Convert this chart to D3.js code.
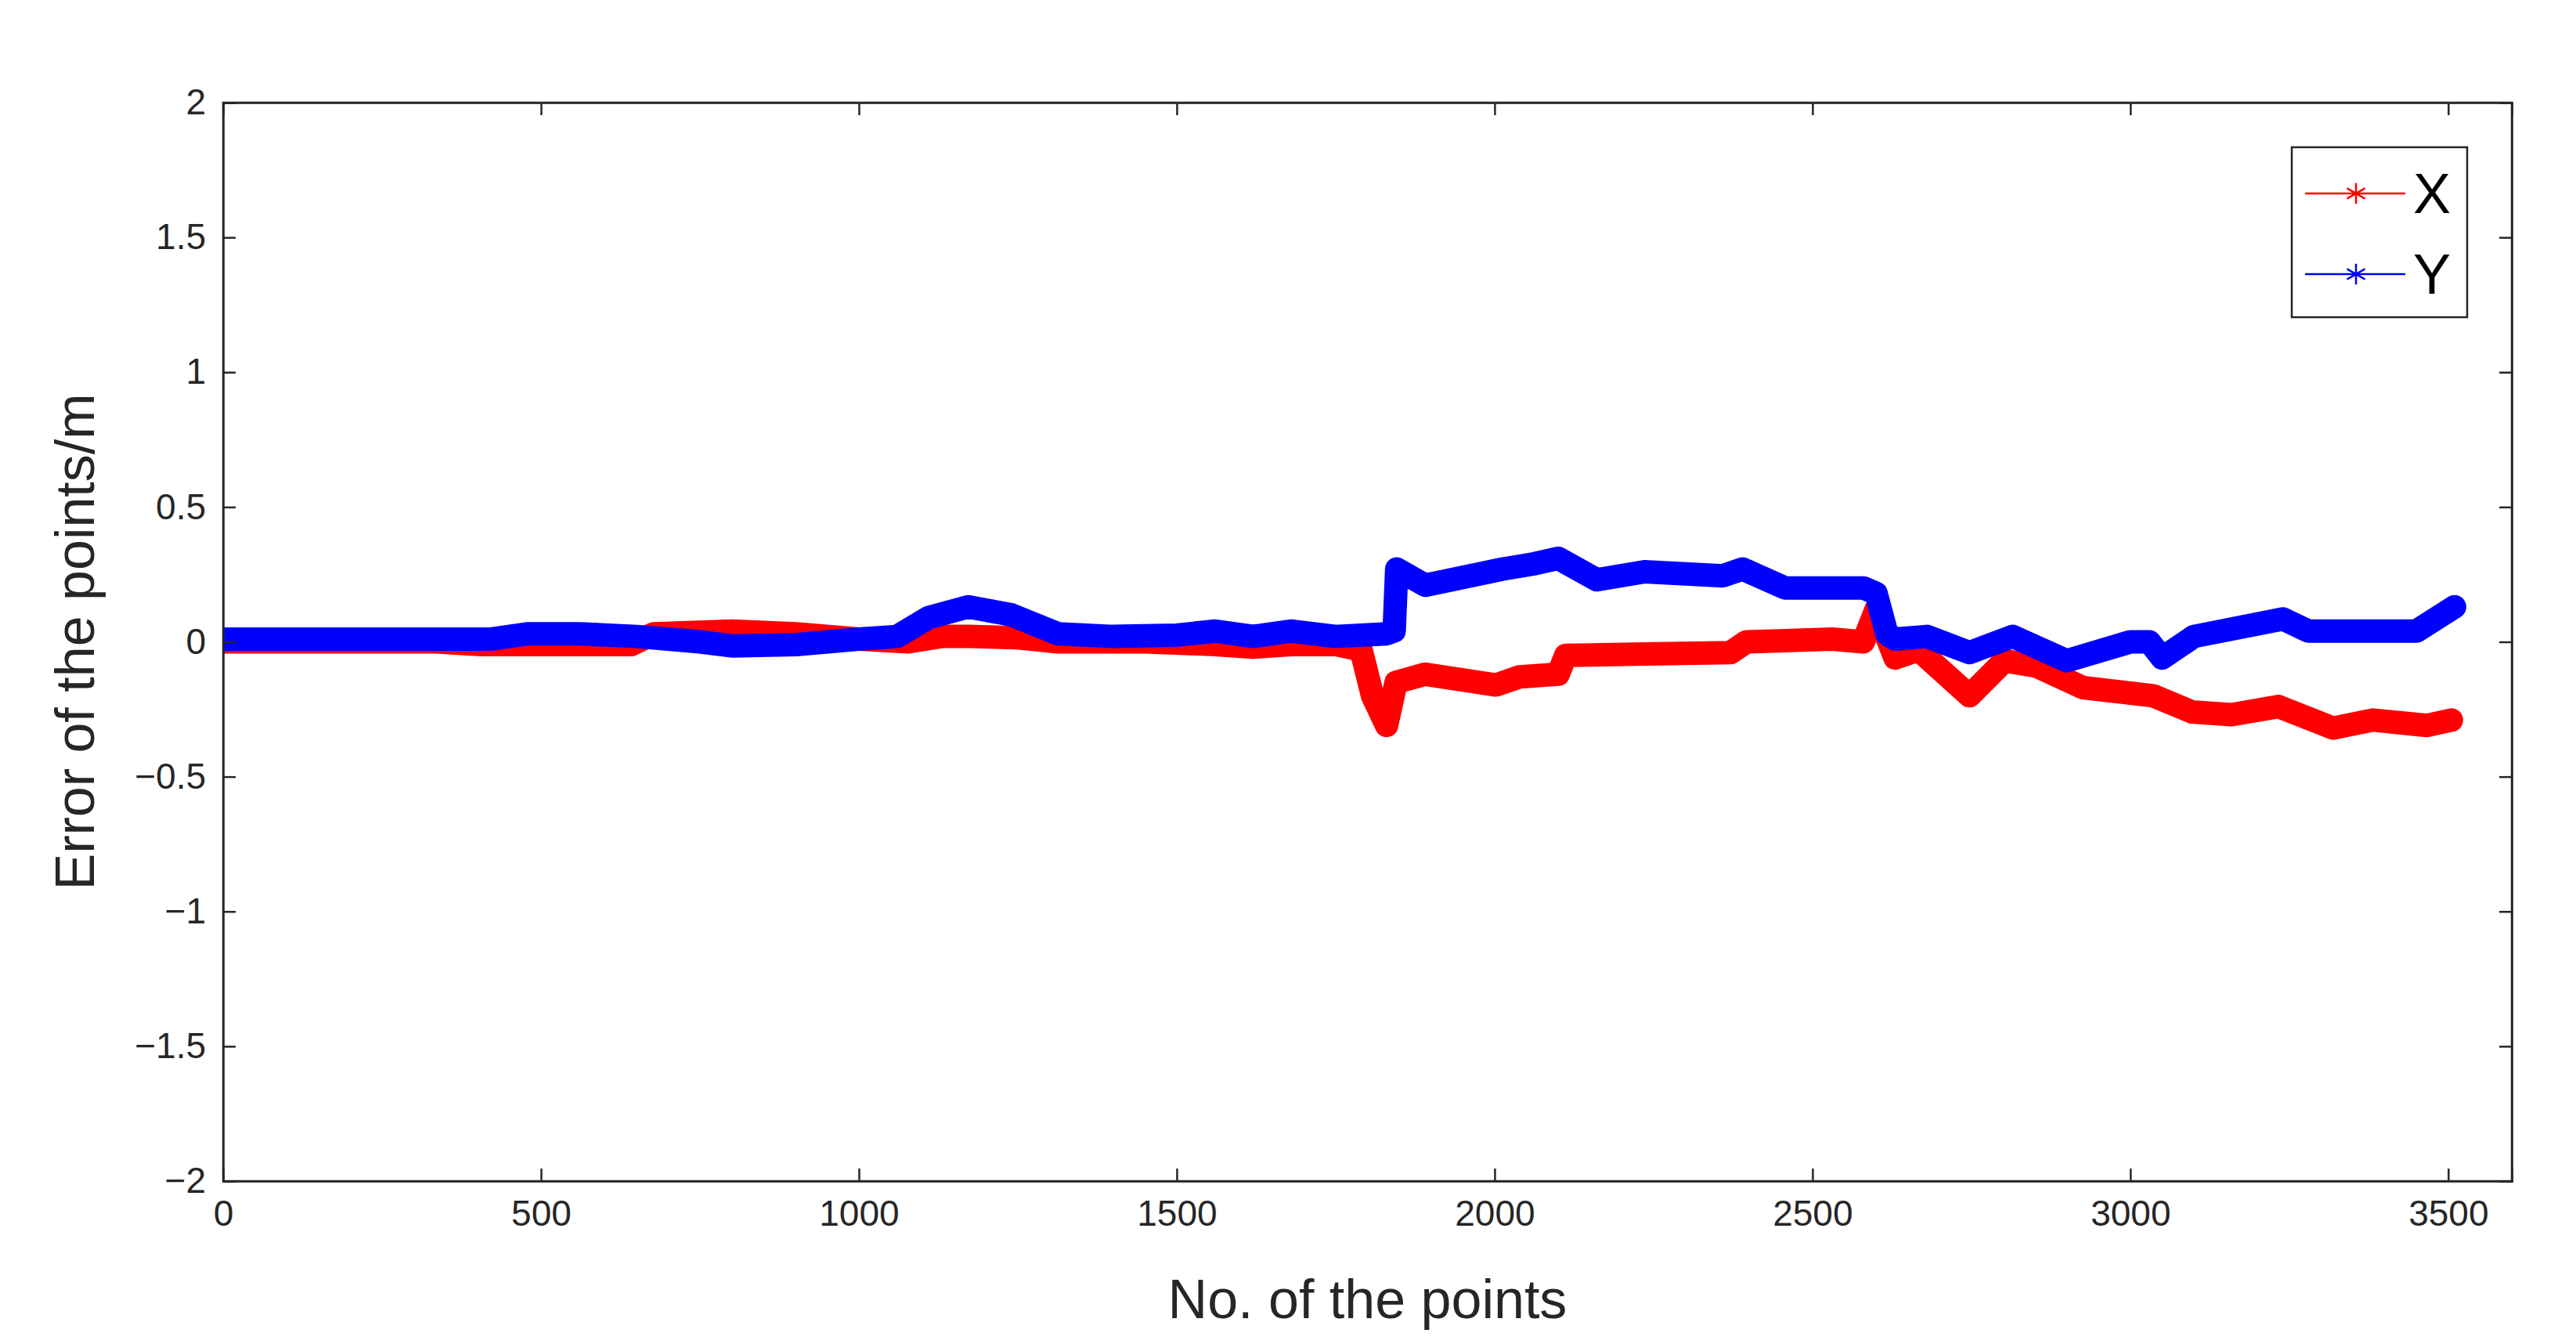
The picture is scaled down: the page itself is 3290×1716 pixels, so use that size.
<!DOCTYPE html>
<html><head><meta charset="utf-8">
<script src="https://cdn.jsdelivr.net/npm/d3@7"></script>
<style>body{margin:0;background:#fff}svg{display:block}text{font-family:"Liberation Sans",Arial,sans-serif}</style>
</head><body><svg id="c" width="3290" height="1716"></svg>
<script>
const xTicks=[0,500,1000,1500,2000,2500,3000,3500];
const yTicks=[-2,-1.5,-1,-0.5,0,0.5,1,1.5,2];
const seriesNames=["X","Y"];
const seriesColors=["#ff0000","#0000ff"];
const redIdx=[0,100,335,406,520,642,677,800,901,1000,1078,1130,1172,1250,1313,1450,1561,1620,1679,1750,1790,1808,1830,1845,1891,2002,2039,2100,2112,2236,2371,2396,2531,2580,2600,2630,2667,2747,2802,2852,2926,3036,3097,3159,3233,3319,3381,3467,3505];
const redVal=[0,0,0,-0.01,-0.01,-0.01,0.03,0.04,0.03,0.01,0.0,0.02,0.02,0.015,0,0,-0.01,-0.02,-0.01,-0.01,-0.03,-0.2,-0.31,-0.15,-0.12,-0.16,-0.13,-0.12,-0.05,-0.045,-0.04,0,0.01,0.0,0.12,-0.06,-0.03,-0.2,-0.07,-0.09,-0.17,-0.2,-0.26,-0.27,-0.24,-0.32,-0.29,-0.31,-0.29];
const blueIdx=[0,200,420,480,560,650,750,800,901,1000,1060,1110,1172,1240,1313,1400,1500,1561,1620,1679,1750,1830,1842,1846,1891,2013,2063,2100,2161,2236,2359,2390,2457,2580,2600,2617,2630,2680,2747,2815,2900,3000,3030,3050,3100,3240,3280,3450,3510];
const blueVal=[0.01,0.01,0.01,0.03,0.03,0.02,0.0,-0.015,-0.01,0.01,0.02,0.09,0.13,0.1,0.03,0.02,0.025,0.04,0.02,0.04,0.02,0.03,0.04,0.27,0.21,0.27,0.29,0.31,0.23,0.26,0.245,0.27,0.2,0.2,0.18,0.03,0.01,0.02,-0.04,0.02,-0.07,0.0,0.0,-0.06,0.02,0.085,0.04,0.04,0.13];

const svg=d3.select("#c");
const L=285,R=3208,T=131,B=1508;
const x=d3.scaleLinear().domain([0,3600]).range([L,R]);
const y=d3.scaleLinear().domain([-2,2]).range([B,T]);
const g=svg.append("g");
g.append("rect").attr("x",L).attr("y",T).attr("width",R-L).attr("height",B-T).attr("fill","#fff");

const clip=svg.append("clipPath").attr("id","cp").append("rect").attr("x",L).attr("y",T).attr("width",R-L).attr("height",B-T);
const line=d3.line().x(d=>x(d[0])).y(d=>y(d[1]));
const sets=[[redIdx,redVal],[blueIdx,blueVal]];
const star=d3.symbol().type(d3.symbolAsterisk||d3.symbolCross).size(900);
sets.forEach((s,k)=>{
  const pts=s[0].map((v,i)=>[v,s[1][i]]);
  const gg=svg.append("g").attr("clip-path","url(#cp)");
  gg.append("path").datum(pts).attr("d",line).attr("fill","none").attr("stroke",seriesColors[k]).attr("stroke-width",30).attr("stroke-linejoin","round").attr("stroke-linecap","round");
});

const ax=d3.axisBottom(x).tickValues(xTicks).tickSize(-16).tickPadding(24).tickFormat(d3.format("d"));
const gx=svg.append("g").attr("transform",`translate(0,${B})`).call(ax);
const ay=d3.axisLeft(y).tickValues(yTicks).tickSize(-16).tickPadding(22).tickFormat(d=>d3.format("")(d));
const gy=svg.append("g").attr("transform",`translate(${L},0)`).call(ay);
svg.append("g").attr("transform",`translate(0,${T})`).call(d3.axisTop(x).tickValues(xTicks).tickSize(-16).tickFormat(""));
svg.append("g").attr("transform",`translate(${R},0)`).call(d3.axisRight(y).tickValues(yTicks).tickSize(-16).tickFormat(""));
svg.selectAll(".domain").attr("stroke","#262626").attr("stroke-width",2.5);
svg.selectAll(".tick line").attr("stroke","#262626").attr("stroke-width",2.5);
[gx,gy].forEach(a=>a.selectAll("text").attr("font-size",46).attr("fill","#262626").style("font-family","Liberation Sans, Arial"));
svg.append("rect").attr("x",L).attr("y",T).attr("width",R-L).attr("height",B-T).attr("fill","none").attr("stroke","#262626").attr("stroke-width",2.5);

svg.append("text").attr("x",(L+R)/2).attr("y",1683).attr("text-anchor","middle").attr("font-size",70).attr("fill","#262626").text("No. of the points");
svg.append("text").attr("transform",`translate(120,${(T+B)/2}) rotate(-90)`).attr("text-anchor","middle").attr("font-size",70).attr("fill","#262626").text("Error of the points/m");

// legend
const lg=svg.append("g");
lg.append("rect").attr("x",2927).attr("y",188).attr("width",224).attr("height",217).attr("fill","#fff").attr("stroke","#262626").attr("stroke-width",2.5);
seriesNames.forEach((n,i)=>{
  const yy=247+i*103;
  lg.append("line").attr("x1",2944).attr("x2",3072).attr("y1",yy).attr("y2",yy).attr("stroke",seriesColors[i]).attr("stroke-width",2.5);
  lg.append("path").attr("transform",`translate(3009,${yy})`).attr("d",d3.symbol().type(d3.symbolAsterisk||d3.symbolCross).size(500)()).attr("fill","none").attr("stroke",seriesColors[i]).attr("stroke-width",2.5);
  lg.append("text").attr("x",3082).attr("y",yy+25).attr("font-size",72).attr("fill","#000").text(n);
});
</script></body></html>
